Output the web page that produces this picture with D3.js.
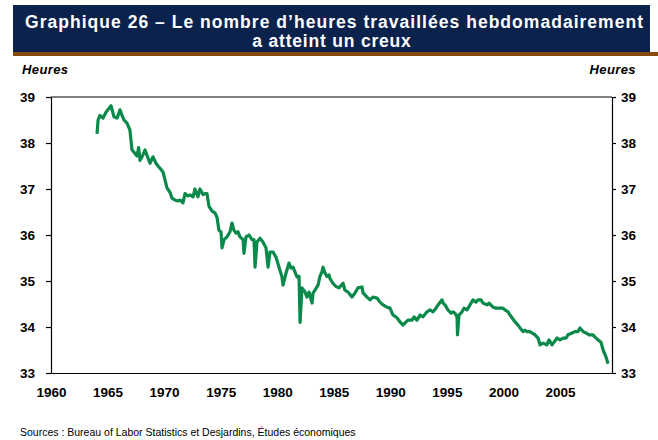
<html>
<head>
<style>
  body { margin: 0; background: #fff; }
  svg { display: block; font-family: "Liberation Sans", Arial, sans-serif; }
</style>
</head>
<body>
<svg width="658" height="440"></svg>
<script src="https://d3js.org/d3.v7.min.js"></script>
<script>
// Heures travaillées hebdomadaires (BLS)
var periods = [
  1964.07, 1964.16, 1964.33, 1964.60, 1964.86, 1965.31, 1965.57, 1965.84, 1966.10, 1966.28,
  1966.45, 1966.72, 1966.98, 1967.16, 1967.34, 1967.60, 1967.75, 1967.87, 1968.13, 1968.31,
  1968.58, 1968.75, 1969.02, 1969.28, 1969.46, 1969.64, 1969.90, 1970.08, 1970.26, 1970.52,
  1970.70, 1970.96, 1971.20, 1971.41, 1971.67, 1971.85, 1972.11, 1972.29, 1972.56, 1972.73,
  1972.99, 1973.17, 1973.44, 1973.62, 1973.79, 1973.97, 1974.24, 1974.50, 1974.68, 1974.85,
  1975.03, 1975.12, 1975.30, 1975.56, 1975.83, 1976.00, 1976.18, 1976.36, 1976.53, 1976.71,
  1976.98, 1977.06, 1977.24, 1977.51, 1977.77, 1977.95, 1978.04, 1978.21, 1978.48, 1978.74,
  1979.01, 1979.19, 1979.36, 1979.63, 1979.89, 1980.16, 1980.42, 1980.51, 1980.78, 1981.04,
  1981.22, 1981.40, 1981.57, 1981.75, 1981.93, 1982.02, 1982.19, 1982.46, 1982.63, 1982.81,
  1983.08, 1983.17, 1983.34, 1983.61, 1983.78, 1983.96, 1984.05, 1984.23, 1984.40, 1984.58,
  1984.67, 1984.93, 1985.20, 1985.46, 1985.82, 1985.99, 1986.26, 1986.61, 1986.88, 1987.14,
  1987.50, 1987.59, 1987.94, 1988.21, 1988.47, 1988.82, 1989.09, 1989.35, 1989.71, 1989.97,
  1990.24, 1990.59, 1990.86, 1991.12, 1991.39, 1991.56, 1991.92, 1992.10, 1992.36, 1992.63,
  1992.89, 1993.24, 1993.51, 1993.78, 1994.04, 1994.22, 1994.57, 1994.66, 1994.84, 1995.10,
  1995.37, 1995.54, 1995.72, 1995.90, 1995.94, 1996.07, 1996.34, 1996.52, 1996.78, 1997.05,
  1997.31, 1997.58, 1997.75, 1998.02, 1998.20, 1998.55, 1998.73, 1999.08, 1999.35, 1999.61,
  1999.96, 2000.14, 2000.41, 2000.58, 2000.76, 2001.03, 2001.29, 2001.47, 2001.73, 2001.91,
  2002.09, 2002.35, 2002.53, 2002.79, 2003.06, 2003.24, 2003.50, 2003.85, 2004.03, 2004.30,
  2004.47, 2004.74, 2005.00, 2005.27, 2005.53, 2005.71, 2006.07, 2006.33, 2006.60, 2006.77,
  2007.04, 2007.30, 2007.57, 2007.92, 2008.10, 2008.36, 2008.63, 2008.81, 2009.07, 2009.25
];
var hours = [
  38.20, 38.50, 38.60, 38.54, 38.67, 38.81, 38.57, 38.54, 38.72, 38.60,
  38.50, 38.43, 38.28, 37.85, 37.80, 37.72, 37.90, 37.62, 37.74, 37.85,
  37.67, 37.56, 37.70, 37.56, 37.50, 37.45, 37.37, 37.20, 37.02, 36.93,
  36.80, 36.76, 36.74, 36.76, 36.70, 36.90, 36.85, 36.87, 36.83, 37.00,
  36.83, 37.00, 36.88, 36.90, 36.90, 36.62, 36.52, 36.48, 36.38, 36.10,
  36.07, 35.72, 35.90, 35.96, 36.07, 36.26, 36.10, 36.04, 36.07, 35.96,
  35.90, 35.60, 35.96, 36.00, 35.90, 35.90, 35.30, 35.85, 35.93, 35.85,
  35.72, 35.30, 35.63, 35.63, 35.52, 35.30, 35.09, 34.91, 35.17, 35.39,
  35.28, 35.30, 35.20, 35.09, 35.10, 34.10, 34.85, 34.76, 34.65, 34.76,
  34.52, 34.74, 34.80, 34.91, 35.10, 35.20, 35.30, 35.17, 35.10, 35.13,
  35.05, 34.95, 34.88, 34.85, 34.95, 34.80, 34.76, 34.65, 34.74, 34.85,
  34.87, 34.74, 34.65, 34.59, 34.65, 34.63, 34.54, 34.48, 34.43, 34.41,
  34.26, 34.20, 34.11, 34.04, 34.11, 34.15, 34.15, 34.22, 34.15, 34.26,
  34.22, 34.33, 34.37, 34.33, 34.41, 34.48, 34.59, 34.52, 34.48, 34.37,
  34.30, 34.33, 34.30, 34.22, 33.83, 34.26, 34.33, 34.41, 34.37, 34.48,
  34.59, 34.54, 34.59, 34.59, 34.52, 34.48, 34.52, 34.43, 34.41, 34.41,
  34.41, 34.37, 34.33, 34.26, 34.20, 34.11, 34.04, 33.98, 33.90, 33.93,
  33.90, 33.90, 33.87, 33.83, 33.76, 33.61, 33.65, 33.61, 33.72, 33.61,
  33.67, 33.76, 33.72, 33.76, 33.76, 33.83, 33.87, 33.90, 33.90, 33.98,
  33.90, 33.87, 33.83, 33.83, 33.78, 33.72, 33.67, 33.50, 33.35, 33.20
];
var yTicks = [33, 34, 35, 36, 37, 38, 39];
var xTicks = [1960, 1965, 1970, 1975, 1980, 1985, 1990, 1995, 2000, 2005];
var titleLines = ["Graphique 26 \u2013 Le nombre d\u2019heures travaill\u00e9es hebdomadairement", "a atteint un creux"];
var unitLabel = "Heures";
var sourceText = "Sources : Bureau of Labor Statistics et Desjardins, \u00c9tudes \u00e9conomiques";

var svg = d3.select("svg");
var plotLeft = 51, plotRight = 612, plotTop = 97, plotBottom = 373;

var x = d3.scaleLinear().domain([1960, 2009.6]).range([plotLeft, plotRight]);
var y = d3.scaleLinear().domain([33, 39]).range([plotBottom, plotTop]);

// bandeau du titre
svg.append("rect").attr("x", 13).attr("y", 5).attr("width", 637).attr("height", 47).attr("fill", "#0b224d");
svg.append("rect").attr("x", 13).attr("y", 52).attr("width", 645).attr("height", 4).attr("fill", "#8a4a0c");
svg.append("text").attr("x", 334).attr("y", 28).attr("text-anchor", "middle")
  .attr("fill", "#fff").attr("font-size", 17.5).attr("font-weight", "bold")
  .attr("textLength", 618).attr("lengthAdjust", "spacing")
  .text(titleLines[0]);
svg.append("text").attr("x", 332).attr("y", 47).attr("text-anchor", "middle")
  .attr("fill", "#fff").attr("font-size", 17.5).attr("font-weight", "bold")
  .attr("letter-spacing", 0.8)
  .text(titleLines[1]);

// unités
svg.append("text").attr("x", 22).attr("y", 74).attr("font-size", 13)
  .attr("font-weight", "bold").attr("font-style", "italic").attr("letter-spacing", 0.4)
  .text(unitLabel);
svg.append("text").attr("x", 636).attr("y", 74).attr("text-anchor", "end").attr("font-size", 13)
  .attr("font-weight", "bold").attr("font-style", "italic").attr("letter-spacing", 0.4)
  .text(unitLabel);

// cadre
svg.append("line").attr("x1", x(1960)).attr("x2", x(2009.6)).attr("y1", y(39)).attr("y2", y(39))
  .attr("stroke", "#000").attr("stroke-width", 1.2);

var yl = svg.append("g").attr("transform", "translate(" + plotLeft + ",0)")
  .call(d3.axisLeft(y).tickValues(yTicks).tickFormat(d3.format("d")).tickSize(5).tickPadding(11).tickSizeOuter(0));
var yr = svg.append("g").attr("transform", "translate(" + plotRight + ",0)")
  .call(d3.axisRight(y).tickValues(yTicks).tickFormat(d3.format("d")).tickSize(4).tickPadding(5).tickSizeOuter(0));
var xb = svg.append("g").attr("transform", "translate(0," + plotBottom + ")")
  .call(d3.axisBottom(x).tickValues(xTicks).tickFormat(d3.format("d")).tickSize(0).tickPadding(14));

[yl, yr, xb].forEach(function(g) {
  g.select(".domain").attr("stroke", "#000").attr("stroke-width", 1.2);
  g.selectAll(".tick line").attr("stroke", "#000").attr("stroke-width", 1.2);
  g.selectAll("text").attr("font-family", "'Liberation Sans', Arial, sans-serif")
    .attr("font-size", 13.5).attr("font-weight", "bold").attr("fill", "#000");
});

// série
var pts = periods.map(function(t, i) { return [t, hours[i]]; });
svg.append("path")
  .datum(pts)
  .attr("fill", "none")
  .attr("stroke", "#0a8a4a")
  .attr("stroke-width", 3.2)
  .attr("stroke-linejoin", "round")
  .attr("d", d3.line().x(function(d) { return x(d[0]); }).y(function(d) { return y(d[1]); }));

// source
svg.append("text").attr("x", 20).attr("y", 436).attr("font-size", 10.5).attr("fill", "#000")
  .text(sourceText);
</script>
</body>
</html>
